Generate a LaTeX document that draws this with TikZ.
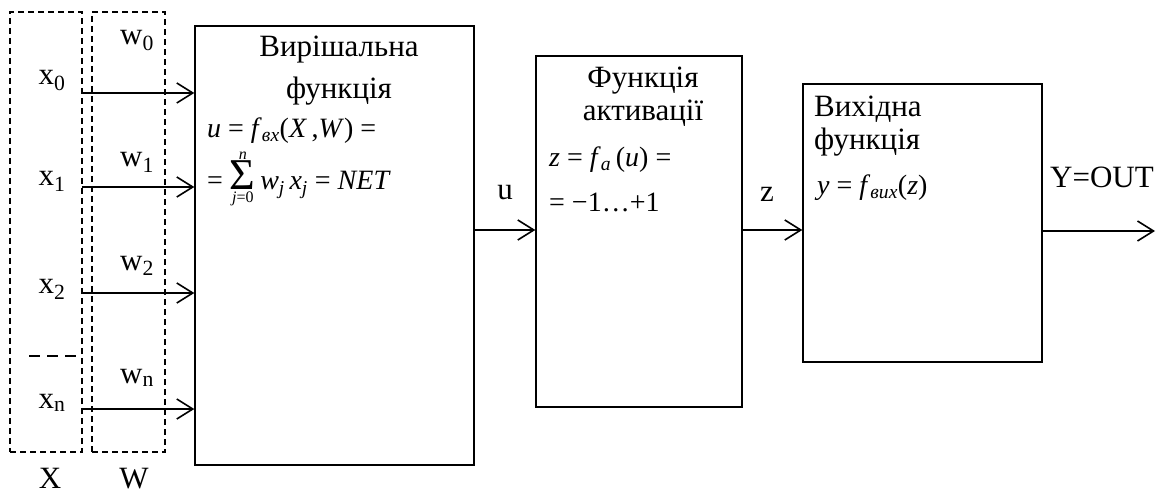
\documentclass[tikz,border=0pt]{standalone}
\usepackage{fontspec}
\setmainfont{Liberation Serif}
\usetikzlibrary{arrows.meta,positioning}

\newcommand{\vi}[1]{\textit{#1}}
\newcommand{\lsub}[1]{\textsubscript{\itshape #1}}
\newcommand{\bigsig}{\mathop{\hbox{\fontsize{44}{44}\selectfont Σ}}}

\tikzset{
  blk/.style={draw, line width=1.4pt, inner sep=0pt},
  grp/.style={draw, dashed, dash pattern=on 6pt off 4pt, line width=1.2pt, inner sep=0pt},
  arr/.style={line width=1.6pt, -{Straight Barb[length=16pt,width=20pt,line width=1.6pt]}},
  lbl/.style={font=\fontsize{31}{36}\selectfont, inner sep=0pt, anchor=base},
  ttl/.style={font=\fontsize{31}{37}\selectfont, inner sep=0pt, anchor=base},
  fml/.style={font=\fontsize{28}{32}\selectfont, inner sep=0pt, anchor=base west}
}

\begin{document}
\begin{tikzpicture}[x=1pt,y=-1pt]
\useasboundingbox (0,0) rectangle (1157,497);

% input groups
\node[grp, minimum width=72pt, minimum height=440pt] (xbox) at (46,232) {};
\node[grp, minimum width=73pt, minimum height=440pt] (wbox) at (128.5,232) {};
\draw[dashed, dash pattern=on 11pt off 7pt, line width=1.2pt] (29,356) -- (82,356);

% blocks
\node[blk, minimum width=279pt, minimum height=439pt] (dec) at (334.5,245.5) {};
\node[blk, minimum width=206pt, minimum height=351pt] (act) at (639,231.5) {};
\node[blk, minimum width=239pt, minimum height=278pt] (outf) at (922.5,223) {};

% inputs and weights
\foreach \i/\y/\ly/\wy in {0/93/85/45, 1/187/186/167, 2/293/294/270, n/409/408/383} {
  \coordinate (in\i) at (82,\y);
  \node[lbl] (x\i) at (52,\ly) {x\textsubscript{\i}};
  \node[lbl] (w\i) at (137,\wy) {w\textsubscript{\i}};
  \draw[arr] (in\i) -- (in\i -| dec.west);
}
\node[lbl] (xlab) at (50,488) {X};
\node[lbl] (wlab) at (134,488) {W};

% decision function
\node[ttl] (dect1) at (339,57) {Вирішальна};
\node[ttl] (dect2) at (339,99) {функція};
\node[fml] (decf1) at (207,138) {\vi{u} = \vi{f}\lsub{вх}(\vi{X}\,,\vi{W}) =};
\node[fml] (decf2) at (207,190) {= $\bigsig\limits_{\hbox{\fontsize{16}{16}\selectfont\itshape j\upshape=0}}^{\hbox{\fontsize{16}{16}\selectfont\itshape n}}$\,\vi{w}\lsub{j}\,\vi{x}\lsub{j} = \vi{NET}};

% activation function
\node[ttl] (actt1) at (643,88) {Функція};
\node[ttl] (actt2) at (643,121) {активації};
\node[fml] (actf1) at (549,167) {\vi{z} = \vi{f}\lsub{a}\,(\vi{u}) =};
\node[fml] (actf2) at (549,212) {= −1…+1};

% output function
\node[ttl, anchor=base west] (outt1) at (814,117) {Вихідна};
\node[ttl, anchor=base west] (outt2) at (814,150) {функція};
\node[fml] (outf1) at (817,195) {\vi{y} = \vi{f}\lsub{вих}(\vi{z})};

% signals
\coordinate (sig) at (0,230);
\coordinate (yend) at (1155,231);
\draw[arr] (dec.east |- sig) -- (act.west |- sig);
\draw[arr] (act.east |- sig) -- (outf.west |- sig);
\draw[arr] (outf.east |- yend) -- (yend);
\node[lbl] (ulab) at (505,200) {u};
\node[lbl] (zlab) at (767,202) {z};
\node[lbl] (ylab) at (1102,188) {Y=OUT};
\end{tikzpicture}
\end{document}
